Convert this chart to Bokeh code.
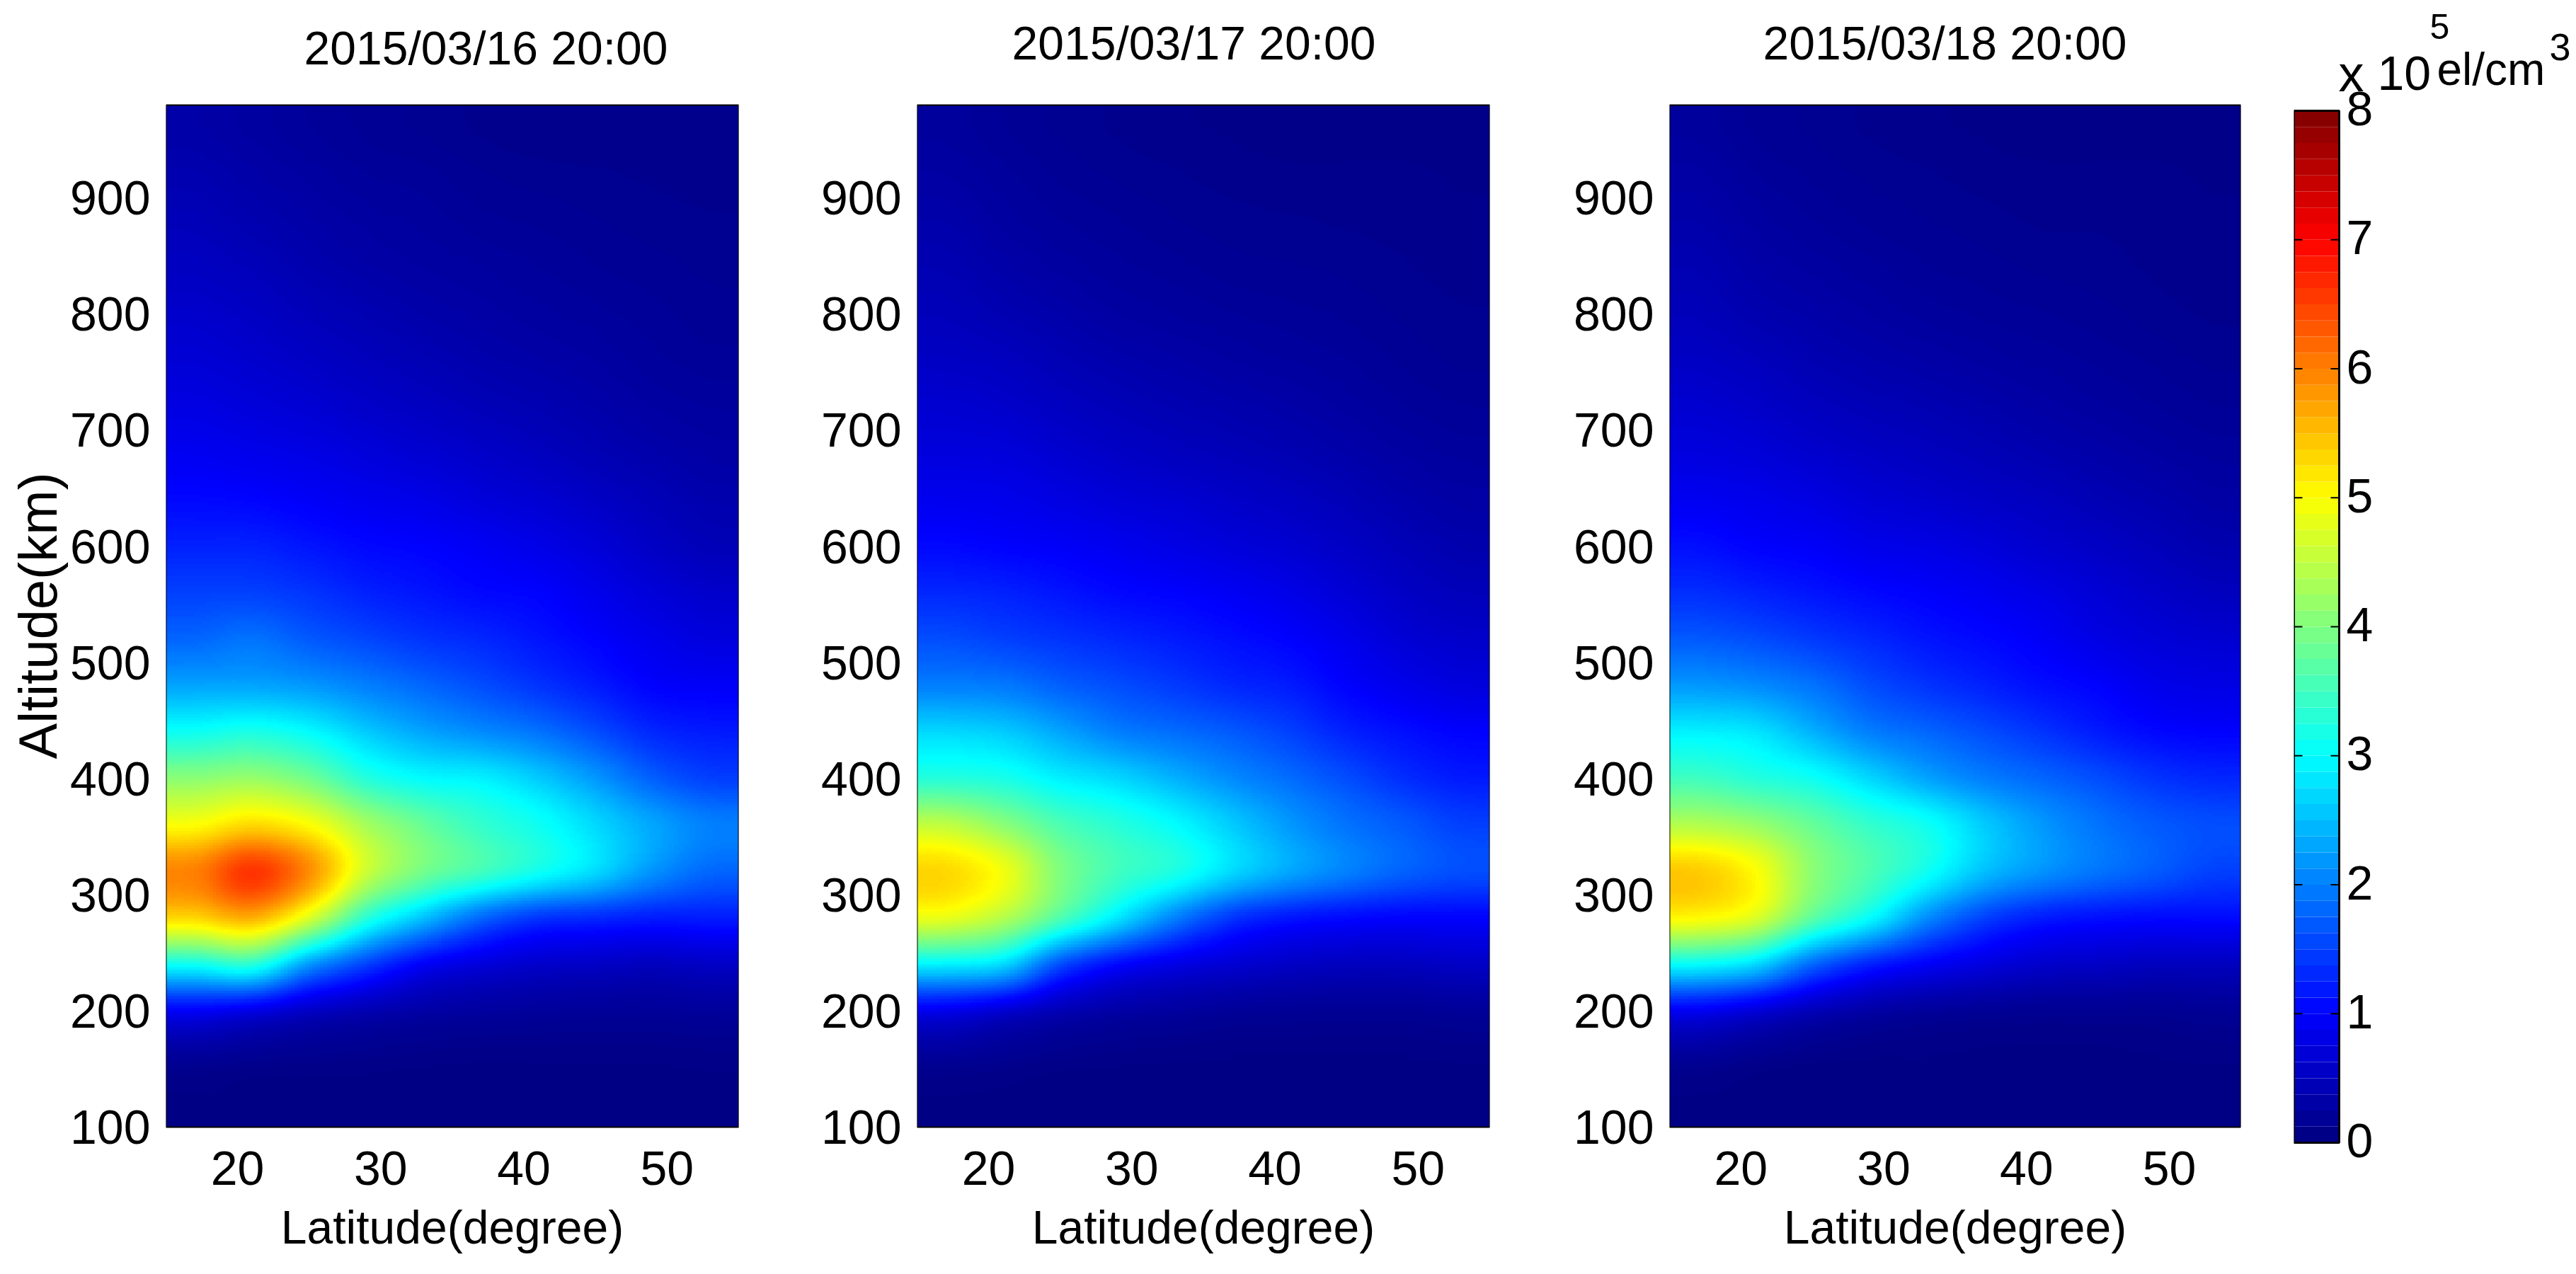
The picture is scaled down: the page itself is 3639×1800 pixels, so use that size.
import numpy as np
from bokeh.core.properties import value
from bokeh.embed import file_html
from bokeh.resources import INLINE
from bokeh.layouts import row, column
from bokeh.plotting import figure
from bokeh.models import Range1d, FixedTicker, LinearColorMapper, Title

TITLES = ["2015/03/16 20:00", "2015/03/17 20:00", "2015/03/18 20:00"]
LAT_TICKS = [20, 30, 40, 50]
ALT_TICKS = [100, 200, 300, 400, 500, 600, 700, 800, 900]
CB_TICKS = [0, 1, 2, 3, 4, 5, 6, 7, 8]
# cell centres of the read-off grid
LATS = [17, 21, 25, 29, 33, 37, 41, 45, 49, 53]
ALTS = [120, 160, 200, 240, 280, 320, 360, 400, 440, 480, 520, 560, 600, 640, 680, 720, 760, 800, 840, 880, 920, 960]

# electron density (x 10^5 el/cm^3), one row per altitude, bottom row first
DENSITY_0316 = [
 [.05, .05, .05, .05, .05, .05, .05, .05, .05, .05],
 [.2, .15, .12, .1, .08, .07, .07, .07, .07, .08],
 [.95, .8, .55, .4, .3, .25, .22, .2, .2, .22],
 [3.1, 3.3, 2.2, 1.5, .95, .72, .6, .55, .5, .55],
 [5.3, 5.6, 4.7, 3.3, 2.5, 1.8, 1.4, 1.3, 1.2, 1.2],
 [6.0, 6.6, 5.9, 4.6, 3.9, 3.5, 3.1, 2.7, 2.15, 1.8],
 [5.0, 5.3, 5.0, 4.3, 3.8, 3.4, 3.1, 2.7, 2.3, 2.0],
 [4.1, 4.2, 3.9, 3.3, 3.0, 2.9, 2.6, 2.2, 1.75, 1.5],
 [3.1, 3.2, 3.0, 2.6, 2.3, 2.1, 1.9, 1.6, 1.3, 1.2],
 [2.3, 2.3, 2.2, 2.0, 1.8, 1.6, 1.4, 1.2, 1.0, .95],
 [1.8, 1.9, 1.7, 1.55, 1.4, 1.3, 1.15, 1.0, .85, .75],
 [1.5, 1.5, 1.4, 1.25, 1.15, 1.05, 1.0, .85, .7, .6],
 [1.25, 1.25, 1.15, 1.05, 1.0, .92, .82, .7, .55, .45],
 [1.05, 1.02, .95, .88, .82, .72, .65, .55, .45, .37],
 [.9, .85, .8, .72, .65, .58, .5, .42, .35, .3],
 [.78, .72, .66, .58, .52, .45, .4, .34, .28, .25],
 [.68, .62, .55, .48, .42, .36, .32, .28, .23, .2],
 [.6, .54, .46, .4, .34, .3, .26, .23, .2, .17],
 [.52, .46, .38, .32, .28, .25, .22, .19, .17, .15],
 [.45, .38, .32, .27, .24, .2, .18, .16, .14, .13],
 [.38, .32, .27, .22, .2, .16, .14, .13, .12, .11],
 [.32, .27, .22, .18, .15, .12, .1, .1, .1, .1],
]
DENSITY_0317 = [
 [.05, .05, .04, .04, .04, .04, .04, .04, .04, .05],
 [.2, .15, .1, .08, .07, .06, .06, .06, .06, .07],
 [.85, .65, .42, .3, .25, .2, .18, .17, .17, .2],
 [2.9, 2.7, 1.6, 1.05, .8, .65, .55, .5, .5, .55],
 [4.8, 4.4, 3.6, 2.8, 2.0, 1.4, 1.15, 1.05, 1.0, 1.0],
 [5.3, 4.9, 4.0, 3.5, 3.2, 2.7, 2.3, 2.0, 1.75, 1.6],
 [4.5, 4.1, 3.6, 3.3, 3.0, 2.6, 2.2, 1.9, 1.7, 1.5],
 [3.3, 3.2, 2.9, 2.7, 2.4, 2.1, 1.85, 1.6, 1.35, 1.2],
 [2.7, 2.6, 2.3, 2.0, 1.85, 1.7, 1.5, 1.25, 1.1, 1.0],
 [2.0, 1.95, 1.75, 1.6, 1.45, 1.3, 1.2, 1.0, .85, .75],
 [1.6, 1.5, 1.4, 1.3, 1.2, 1.1, 1.0, .85, .68, .6],
 [1.3, 1.25, 1.15, 1.05, 1.0, .92, .82, .68, .55, .47],
 [1.05, 1.0, .95, .88, .8, .72, .65, .55, .45, .37],
 [.88, .85, .78, .7, .65, .58, .52, .44, .35, .3],
 [.74, .72, .64, .56, .5, .45, .4, .34, .28, .24],
 [.64, .6, .52, .45, .4, .36, .32, .27, .22, .19],
 [.54, .5, .42, .36, .32, .28, .25, .22, .18, .15],
 [.46, .4, .34, .28, .25, .22, .2, .18, .15, .13],
 [.4, .33, .27, .23, .2, .17, .16, .15, .13, .11],
 [.34, .27, .22, .19, .16, .14, .13, .12, .11, .1],
 [.28, .23, .18, .15, .13, .11, .1, .1, .1, .09],
 [.24, .19, .15, .12, .1, .09, .08, .08, .08, .08],
]
DENSITY_0318 = [
 [.05, .05, .04, .04, .04, .04, .04, .04, .04, .05],
 [.2, .13, .08, .06, .06, .05, .05, .05, .06, .07],
 [.9, .7, .45, .3, .22, .18, .15, .15, .15, .18],
 [3.0, 2.7, 1.8, 1.25, .95, .75, .6, .55, .5, .5],
 [5.0, 4.7, 3.7, 3.0, 2.1, 1.5, 1.2, 1.1, 1.05, 1.05],
 [5.4, 5.0, 4.1, 3.6, 3.1, 2.5, 2.15, 1.9, 1.7, 1.5],
 [4.4, 4.2, 3.8, 3.4, 3.1, 2.6, 2.2, 1.9, 1.7, 1.6],
 [3.5, 3.3, 3.1, 2.7, 2.3, 2.0, 1.8, 1.6, 1.4, 1.3],
 [2.9, 2.8, 2.4, 2.0, 1.8, 1.6, 1.4, 1.2, 1.05, 1.0],
 [2.2, 2.1, 1.9, 1.6, 1.4, 1.25, 1.1, 1.0, .85, .8],
 [1.7, 1.6, 1.45, 1.3, 1.15, 1.05, .95, .8, .7, .65],
 [1.35, 1.25, 1.15, 1.05, .98, .9, .8, .68, .58, .5],
 [1.1, 1.0, .95, .85, .8, .72, .62, .55, .46, .38],
 [.9, .85, .78, .68, .62, .56, .5, .42, .36, .3],
 [.75, .7, .62, .55, .5, .44, .38, .33, .28, .24],
 [.64, .58, .5, .44, .4, .35, .3, .26, .22, .19],
 [.54, .48, .4, .35, .31, .27, .24, .21, .18, .15],
 [.46, .38, .33, .28, .24, .21, .19, .17, .14, .12],
 [.4, .32, .27, .23, .19, .17, .15, .14, .12, .11],
 [.34, .27, .22, .18, .16, .14, .12, .12, .11, .1],
 [.29, .22, .18, .15, .13, .11, .1, .1, .1, .09],
 [.24, .18, .15, .12, .1, .09, .08, .08, .08, .08],
]
PANELS = [DENSITY_0316, DENSITY_0317, DENSITY_0318]


def jet(n):
    out = []
    for i in range(n):
        t = (i + 0.5) / n * 4
        r = min(t - 1.5, 4.5 - t)
        g = min(t - 0.5, 3.5 - t)
        b = min(t + 0.5, 2.5 - t)
        c = [int(round(255 * max(0, min(1, v)))) for v in (r, g, b)]
        out.append("#%02x%02x%02x" % tuple(c))
    return out


def shade_axis(a, k):
    """Display-time smooth shading along axis 0 (the original uses interpolated shading)."""
    n = a.shape[0]
    pos = (np.arange(n * k) + 0.5) / k - 0.5
    i = np.floor(pos).astype(int)
    t = (pos - i)[(...,) + (None,) * (a.ndim - 1)]
    p0, p1, p2, p3 = (a[np.clip(i + d, 0, n - 1)] for d in (-1, 0, 1, 2))
    return 0.5 * (2 * p1 + (p2 - p0) * t + (2 * p0 - 5 * p1 + 4 * p2 - p3) * t ** 2 + (3 * p1 - p0 - 3 * p2 + p3) * t ** 3)


def shade(values, k=16):
    a = np.array(values, dtype=float)
    return shade_axis(shade_axis(a, k).T, k).T


mapper = LinearColorMapper(palette=jet(256), low=0, high=8)
FONT = "Liberation Sans"
TXT = "68px"
HEIGHT = 1800
# layout in canvas pixels
FRAMES = [(234, 1043), (1295, 2104), (2358, 3165)]
EDGES = [0, 1140, 2206, 3200, 3631]
TOP, BOTTOM, FRAME_BOTTOM = 148, 1592, 1614
TITLE_POS = [(686, 67), (1686, 60), (2747, 60)]

figs = []
for i, (data, name) in enumerate(zip(PANELS, TITLES)):
    x0, x1 = FRAMES[i]
    sy = (BOTTOM - TOP) / 880
    sx = (x1 - x0) / 40
    p = figure(width=EDGES[i + 1] - EDGES[i], height=HEIGHT, output_backend="svg", toolbar_location=None,
               x_range=Range1d(15, 55), y_range=Range1d(100 - (FRAME_BOTTOM - BOTTOM) / sy, 980 + TOP / sy),
               min_border_left=x0 - EDGES[i], min_border_right=EDGES[i + 1] - x1,
               min_border_top=0, min_border_bottom=HEIGHT - FRAME_BOTTOM)
    p.image(image=[shade(data)], x=LATS[0] - 2, y=ALTS[0] - 20,
            dw=4 * len(LATS), dh=40 * len(ALTS), color_mapper=mapper)
    p.quad(left=15, right=55, bottom=100, top=980, fill_color=None, line_color="black", line_width=2)
    tx, ty = TITLE_POS[i]
    p.text(x=[15 + (tx - x0) / sx], y=[100 + (BOTTOM - ty) / sy], text=[name], text_font=value(FONT),
           text_font_size="66px", text_align="center", text_baseline="alphabetic", text_color="black")
    p.grid.visible = False
    p.outline_line_color = None
    p.xaxis.ticker = FixedTicker(ticks=LAT_TICKS)
    p.yaxis.ticker = FixedTicker(ticks=ALT_TICKS)
    p.xaxis.axis_label = "Latitude(degree)"
    for ax in (p.xaxis[0], p.yaxis[0]):
        ax.axis_line_color = None
        ax.major_tick_line_color = None
        ax.minor_tick_line_color = None
        ax.major_tick_in = 0
        ax.major_tick_out = 0
        ax.major_label_text_font = FONT
        ax.major_label_text_font_size = TXT
        ax.major_label_text_color = "black"
        ax.axis_label_text_font = FONT
        ax.axis_label_text_font_size = "66px"
        ax.axis_label_text_font_style = "normal"
        ax.axis_label_text_color = "black"
        ax.major_label_standoff = 22
    p.xaxis.major_label_standoff = 12
    p.xaxis.axis_label_standoff = 20
    if i == 0:
        # the label sits off-centre of the frame, which also spans the title strip
        p.add_layout(Title(text="Altitude(km)", align="left", offset=542, standoff=2, text_font=FONT,
                           text_font_size="76px", text_font_style="normal", text_color="black"), "left")
    figs.append(p)

# colour bar: one frame that also holds the unit text above the bar
CB_X0, CB_X1, CB_TOP, CB_BOT = 3240, 3304, 156, 1614
cb_sy = (CB_BOT - CB_TOP) / 8
cb_sx = CB_X1 - CB_X0
CB_FRAME_BOTTOM = 1700
cb = figure(width=EDGES[4] - EDGES[3], height=HEIGHT, output_backend="svg", toolbar_location=None,
            x_range=Range1d(0, (EDGES[4] - CB_X0) / cb_sx),
            y_range=Range1d(-(CB_FRAME_BOTTOM - CB_BOT) / cb_sy, CB_BOT / cb_sy),
            min_border_left=CB_X0 - EDGES[3], min_border_right=0,
            min_border_top=0, min_border_bottom=HEIGHT - CB_FRAME_BOTTOM)
edges = np.linspace(0, 8, 65)
cb.quad(left=0, right=1, bottom=edges[:-1], top=edges[1:], fill_color=jet(64), line_color=None)
cb.quad(left=0, right=1, bottom=0, top=8, fill_color=None, line_color="black", line_width=3)
tick_len = 12 / cb_sx
inner = CB_TICKS[1:-1]
cb.segment(x0=[0] * len(inner), x1=[tick_len] * len(inner), y0=inner, y1=inner, line_color="black", line_width=2)
cb.segment(x0=[1 - tick_len] * len(inner), x1=[1] * len(inner), y0=inner, y1=inner, line_color="black", line_width=2)
cb.text(x=[(3333 - CB_X0) / cb_sx] * len(CB_TICKS), y=[v + 3 / cb_sy for v in CB_TICKS], text=[str(v) for v in CB_TICKS],
        text_font=value(FONT), text_font_size=TXT, text_align="center", text_baseline="middle", text_color="black")
cb.grid.visible = False
cb.outline_line_color = None
cb.axis.visible = False


def cb_label(text, x, base, size):
    cb.text(x=[(x - CB_X0) / cb_sx], y=[(CB_BOT - base) / cb_sy], text=[text], text_font=value(FONT),
            text_font_size=size, text_align="left", text_baseline="alphabetic", text_color="black")


cb_label("x", 3303, 103, "72px")
cb_label("10", 3358, 103, "68px")
cb_label("5", 3432, 37, "50px")
cb_label("el/cm", 3442, 97, "64px")
cb_label("3", 3601, 66, "54px")
figs.append(column(cb))

open("out.html", "w").write(file_html(row(*figs, spacing=0), INLINE))
